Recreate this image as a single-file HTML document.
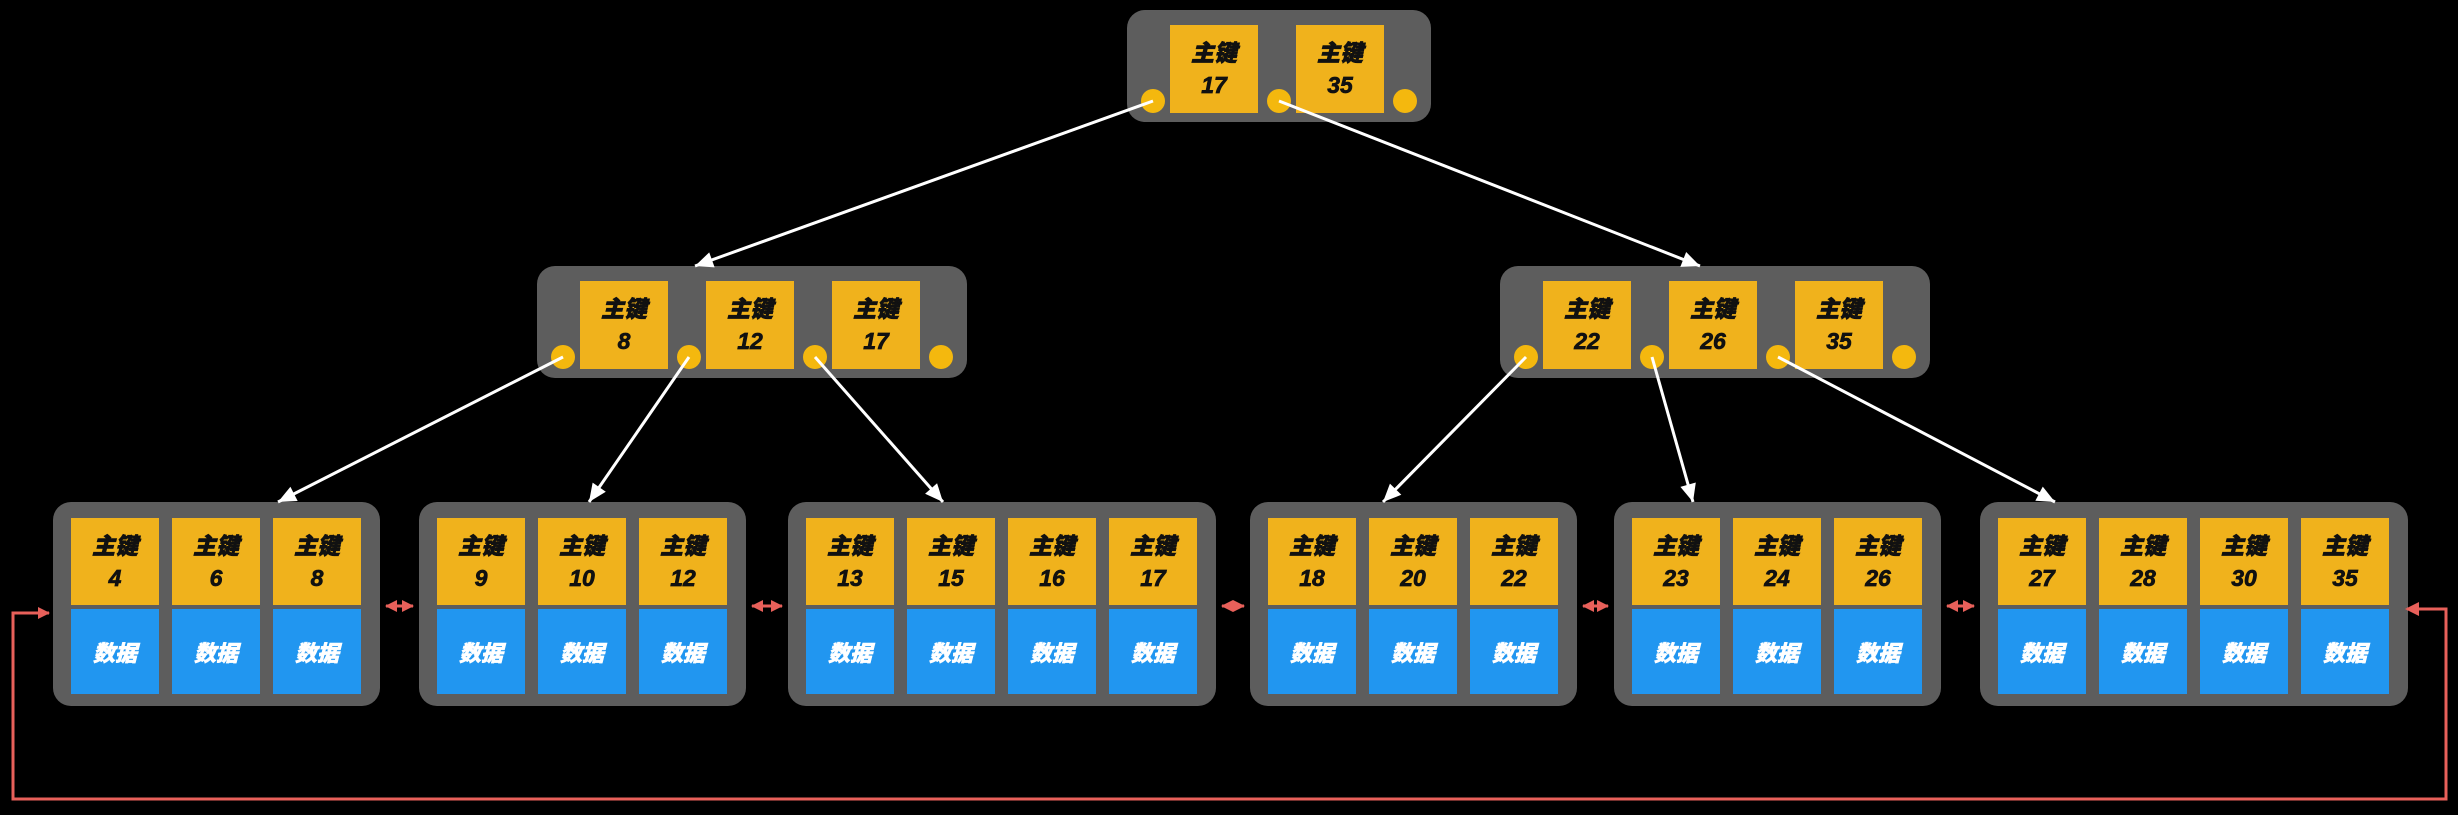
<!DOCTYPE html>
<html><head><meta charset="utf-8">
<style>
html,body{margin:0;padding:0;background:#000;}
#c{position:relative;width:2458px;height:815px;overflow:hidden;background:#000;font-family:"Liberation Sans","Noto Sans CJK SC",sans-serif;}
.node{position:absolute;background:#5d5d5d;border-radius:18px;}
.cell{position:absolute;display:flex;flex-direction:column;align-items:center;justify-content:center;font-weight:900;font-style:italic;}
.key{background:#f0b21c;color:#111;font-size:23px;line-height:32px;-webkit-text-stroke:0.7px #111;}
.data{background:#2196f0;color:#fff;font-size:22px;-webkit-text-stroke:0.5px #fff;}
.dot{position:absolute;width:24px;height:24px;border-radius:50%;background:#f4b80e;}
svg{position:absolute;left:0;top:0;}
</style></head><body>
<div id="c"></div>
<script>
// tree data
const rootKeys=[17,35];
const midLeftKeys=[8,12,17];
const midRightKeys=[22,26,35];
const leafKeys=[[4,6,8],[9,10,12],[13,15,16,17],[18,20,22],[23,24,26],[27,28,30,35]];
const leafX=[53,419,788,1250,1614,1980];

const c=document.getElementById('c');
function mk(cls,x,y,w,h,name){
  const d=document.createElement('div');
  d.className=cls;
  d.style.left=x+'px';d.style.top=y+'px';d.style.width=w+'px';d.style.height=h+'px';
  
  
  c.appendChild(d);return d;
}
function internal(keys,x,name){
  const y=name==='root-node'?10:266;
  const w=keys.length*126+52;
  mk('node',x,y,w,112,name);
  keys.forEach((k,i)=>{
    const cx=x+43+i*126;
    const d=mk('cell key',cx,y+15,88,88,'key-cell-'+k);
    d.innerHTML='<div>主键</div><div>'+k+'</div>';
  });
  const ds=[];
  for(let i=0;i<=keys.length;i++){
    const dx=x+26+i*126, dy=y+91;
    mk('dot',dx-12,dy-12,24,24,'pointer-dot');
    ds.push([dx,dy]);
  }
  return ds;
}
const rootDots=internal(rootKeys,1127,'root-node');
const mlDots=internal(midLeftKeys,537,'internal-node-left');
const mrDots=internal(midRightKeys,1500,'internal-node-right');

const leafTops=[];
leafKeys.forEach((keys,li)=>{
  const x=leafX[li];
  const w=keys.length*101+24;
  mk('node',x,502,w,204,'leaf-node-'+(li+1));
  keys.forEach((k,i)=>{
    const cx=x+18+i*101;
    const kd=mk('cell key',cx,518,88,87,'leaf-key-'+k);
    kd.innerHTML='<div>主键</div><div>'+k+'</div>';
    const dd=mk('cell data',cx,609,88,85,'leaf-data-'+k);
    dd.textContent='数据';
  });
  leafTops.push([x,w]);
});

const NS='http://www.w3.org/2000/svg';
const svg=document.createElementNS(NS,'svg');
svg.setAttribute('width','2458');svg.setAttribute('height','815');


svg.innerHTML='<defs>'+
'<marker id="ra" markerWidth="12" markerHeight="12" refX="11" refY="6" orient="auto" markerUnits="userSpaceOnUse" viewBox="0 0 12 12"><path d="M0,0L12,6L0,12z" fill="#e8605a"/></marker>'+
'<marker id="rs" markerWidth="12" markerHeight="12" refX="1" refY="6" orient="auto" markerUnits="userSpaceOnUse" viewBox="0 0 12 12"><path d="M12,0L0,6L12,12z" fill="#e8605a"/></marker></defs>';
c.appendChild(svg);
function line(x1,y1,x2,y2,name){
  const l=document.createElementNS(NS,'line');
  l.setAttribute('x1',x1);l.setAttribute('y1',y1);l.setAttribute('x2',x2);l.setAttribute('y2',y2);
  l.setAttribute('stroke','#fff');l.setAttribute('stroke-width','3');
  
  
  svg.appendChild(l);
  const m=document.createElementNS(NS,'polygon');
  const a=Math.atan2(y2-y1,x2-x1),s=18,h=8;
  const bx=x2-s*Math.cos(a),by=y2-s*Math.sin(a);
  m.setAttribute('points',x2+','+y2+' '+(bx-h*Math.sin(a))+','+(by+h*Math.cos(a))+' '+(bx+h*Math.sin(a))+','+(by-h*Math.cos(a)));
  m.setAttribute('fill','#fff');
  
  
  svg.appendChild(m);
}
line(rootDots[0][0],rootDots[0][1],695,266,'arrow-root-left');
line(rootDots[1][0],rootDots[1][1],1700,266,'arrow-root-right');
const leafTargets=[278,589,943,1383,1693,2055];
line(mlDots[0][0],mlDots[0][1],leafTargets[0],502,'arrow-leaf-1');
line(mlDots[1][0],mlDots[1][1],leafTargets[1],502,'arrow-leaf-2');
line(mlDots[2][0],mlDots[2][1],leafTargets[2],502,'arrow-leaf-3');
line(mrDots[0][0],mrDots[0][1],leafTargets[3],502,'arrow-leaf-4');
line(mrDots[1][0],mrDots[1][1],leafTargets[4],502,'arrow-leaf-5');
line(mrDots[2][0],mrDots[2][1],leafTargets[5],502,'arrow-leaf-6');

for(let i=0;i<leafTops.length-1;i++){
  const x1=leafTops[i][0]+leafTops[i][1]+6, x2=leafTops[i+1][0]-6;
  const l=document.createElementNS(NS,'line');
  l.setAttribute('x1',x1);l.setAttribute('y1',606);l.setAttribute('x2',x2);l.setAttribute('y2',606);
  l.setAttribute('stroke','#e8605a');l.setAttribute('stroke-width','3');
  l.setAttribute('marker-end','url(#ra)');l.setAttribute('marker-start','url(#rs)');
  
  
  svg.appendChild(l);
}
const p=document.createElementNS(NS,'polyline');
p.setAttribute('points','2407,609 2446,609 2446,799 13,799 13,613 49,613');
p.setAttribute('fill','none');p.setAttribute('stroke','#e8605a');p.setAttribute('stroke-width','3');
p.setAttribute('marker-end','url(#ra)');


svg.appendChild(p);
const ph=document.createElementNS(NS,'polygon');
ph.setAttribute('points','2405,609 2419,602 2419,616');
ph.setAttribute('fill','#e8605a');


svg.appendChild(ph);
</script>
</body></html>
